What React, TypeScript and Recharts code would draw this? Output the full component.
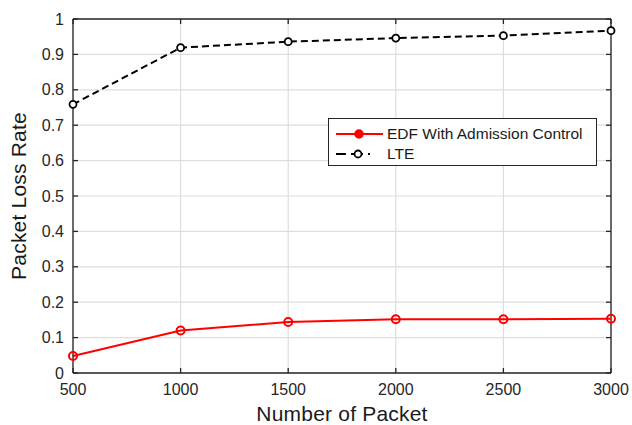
import React from "react";
import {
  LineChart,
  Line,
  XAxis,
  YAxis,
  CartesianGrid,
  Legend,
  ReferenceLine,
} from "recharts";

const packets = [500, 1000, 1500, 2000, 2500, 3000];
const edfValues = [0.048, 0.12, 0.144, 0.152, 0.152, 0.153];
const lteValues = [0.759, 0.919, 0.936, 0.946, 0.953, 0.967];
const xTicks = [500, 1000, 1500, 2000, 2500, 3000];
const yTicks = [0, 0.1, 0.2, 0.3, 0.4, 0.5, 0.6, 0.7, 0.8, 0.9, 1];

const W = 632;
const H = 425;
const MARGIN = { top: 19, right: 21, left: 0, bottom: 0 };
const Y_AXIS_W = 73;
const X_AXIS_H = 52;
const PLOT_LEFT = MARGIN.left + Y_AXIS_W;
const PLOT_RIGHT = W - MARGIN.right;
const PLOT_TOP = MARGIN.top;
const PLOT_BOTTOM = H - MARGIN.bottom - X_AXIS_H;
const TICK_LEN = 5;
const AXIS_COLOR = "#262626";
const FONT = "'Liberation Sans', Arial, Helvetica, sans-serif";

const data = packets.map((p, i) => ({
  packets: p,
  edf: edfValues[i],
  lte: lteValues[i],
}));

function YTick(props: any) {
  const { y, payload } = props;
  return (
    <g>
      <line x1={PLOT_LEFT} x2={PLOT_LEFT + TICK_LEN} y1={y} y2={y} stroke={AXIS_COLOR} strokeWidth={1.3} />
      <line x1={PLOT_RIGHT} x2={PLOT_RIGHT - TICK_LEN} y1={y} y2={y} stroke={AXIS_COLOR} strokeWidth={1.3} />
      <text x={PLOT_LEFT - 9} y={y} dy={5.5} textAnchor="end" fontSize={16} fill="#262626" fontFamily={FONT}>
        {String(payload.value)}
      </text>
    </g>
  );
}

function XTick(props: any) {
  const { x, payload } = props;
  return (
    <g>
      <line x1={x} x2={x} y1={PLOT_BOTTOM} y2={PLOT_BOTTOM - TICK_LEN} stroke={AXIS_COLOR} strokeWidth={1.3} />
      <line x1={x} x2={x} y1={PLOT_TOP} y2={PLOT_TOP + TICK_LEN} stroke={AXIS_COLOR} strokeWidth={1.3} />
      <text x={x} y={PLOT_BOTTOM + 22} textAnchor="middle" fontSize={16} fill="#262626" fontFamily={FONT}>
        {String(payload.value)}
      </text>
    </g>
  );
}

function LegendBox() {
  return (
    <div
      style={{
        width: 267,
        height: 46,
        border: `1px solid ${AXIS_COLOR}`,
        background: "#fff",
        fontFamily: FONT,
        fontSize: 15.5,
        color: "#1a1a1a",
        position: "relative",
        textAlign: "left",
      }}
    >
      <svg width={60} height={46} style={{ position: "absolute", left: 0, top: 0 }}>
        <line x1={7} x2={54} y1={15} y2={15} stroke="#ff0000" strokeWidth={2} />
        <circle cx={30} cy={15} r={4} fill="#ff0000" stroke="#ff0000" strokeWidth={1.5} />
        <line x1={7} x2={54} y1={35} y2={35} stroke="#000" strokeWidth={2} strokeDasharray="10 5 12 5 2 20" />
        <circle cx={29} cy={35} r={3.5} fill="#fff" stroke="#000" strokeWidth={1.8} />
      </svg>
      <div style={{ position: "absolute", left: 58, top: 6, lineHeight: "18px", whiteSpace: "nowrap" }}>
        EDF With Admission Control
      </div>
      <div style={{ position: "absolute", left: 58, top: 26, lineHeight: "18px" }}>LTE</div>
    </div>
  );
}

export default function App() {
  return (
    <div style={{ position: "absolute", left: 0, top: 0, width: W, height: H, background: "#fff" }}>
      <LineChart width={W} height={H} data={data} margin={MARGIN}>
        <CartesianGrid stroke="#dedede" strokeWidth={1.2} />
        <XAxis
          dataKey="packets"
          type="number"
          domain={[500, 3000]}
          ticks={xTicks}
          height={X_AXIS_H}
          stroke={AXIS_COLOR}
          strokeWidth={1.3}
          tickLine={false}
          tick={<XTick />}
          label={{
            value: "Number of Packet",
            position: "insideBottom",
            offset: 4,
            fontSize: 21,
            fill: "#1a1a1a",
            fontFamily: FONT,
            letterSpacing: 0.2,
          }}
        />
        <YAxis
          type="number"
          domain={[0, 1]}
          ticks={yTicks}
          width={Y_AXIS_W}
          stroke={AXIS_COLOR}
          strokeWidth={1.3}
          tickLine={false}
          tick={<YTick />}
          label={{
            value: "Packet Loss Rate",
            angle: -90,
            position: "insideLeft",
            offset: 19,
            style: { textAnchor: "middle" },
            fontSize: 21,
            fill: "#1a1a1a",
            fontFamily: FONT,
            letterSpacing: 0.2,
          }}
        />
        <ReferenceLine y={1} stroke={AXIS_COLOR} strokeWidth={1.3} />
        <ReferenceLine x={3000} stroke={AXIS_COLOR} strokeWidth={1.3} />
        <Line
          dataKey="edf"
          stroke="#ff0000"
          strokeWidth={2}
          dot={{ r: 4, stroke: "#ff0000", strokeWidth: 2, fill: "none" }}
          isAnimationActive={false}
        />
        <Line
          dataKey="lte"
          stroke="#000"
          strokeWidth={2}
          strokeDasharray="7 4"
          dot={{ r: 3.5, stroke: "#000", strokeWidth: 1.8, fill: "#fff", strokeDasharray: "" }}
          isAnimationActive={false}
        />
        <Legend
          layout="vertical"
          align="center"
          verticalAlign="middle"
          content={<LegendBox />}
          wrapperStyle={{ position: "absolute", left: 328, top: 118, width: "auto", bottom: "auto", right: "auto" }}
        />
      </LineChart>
    </div>
  );
}
